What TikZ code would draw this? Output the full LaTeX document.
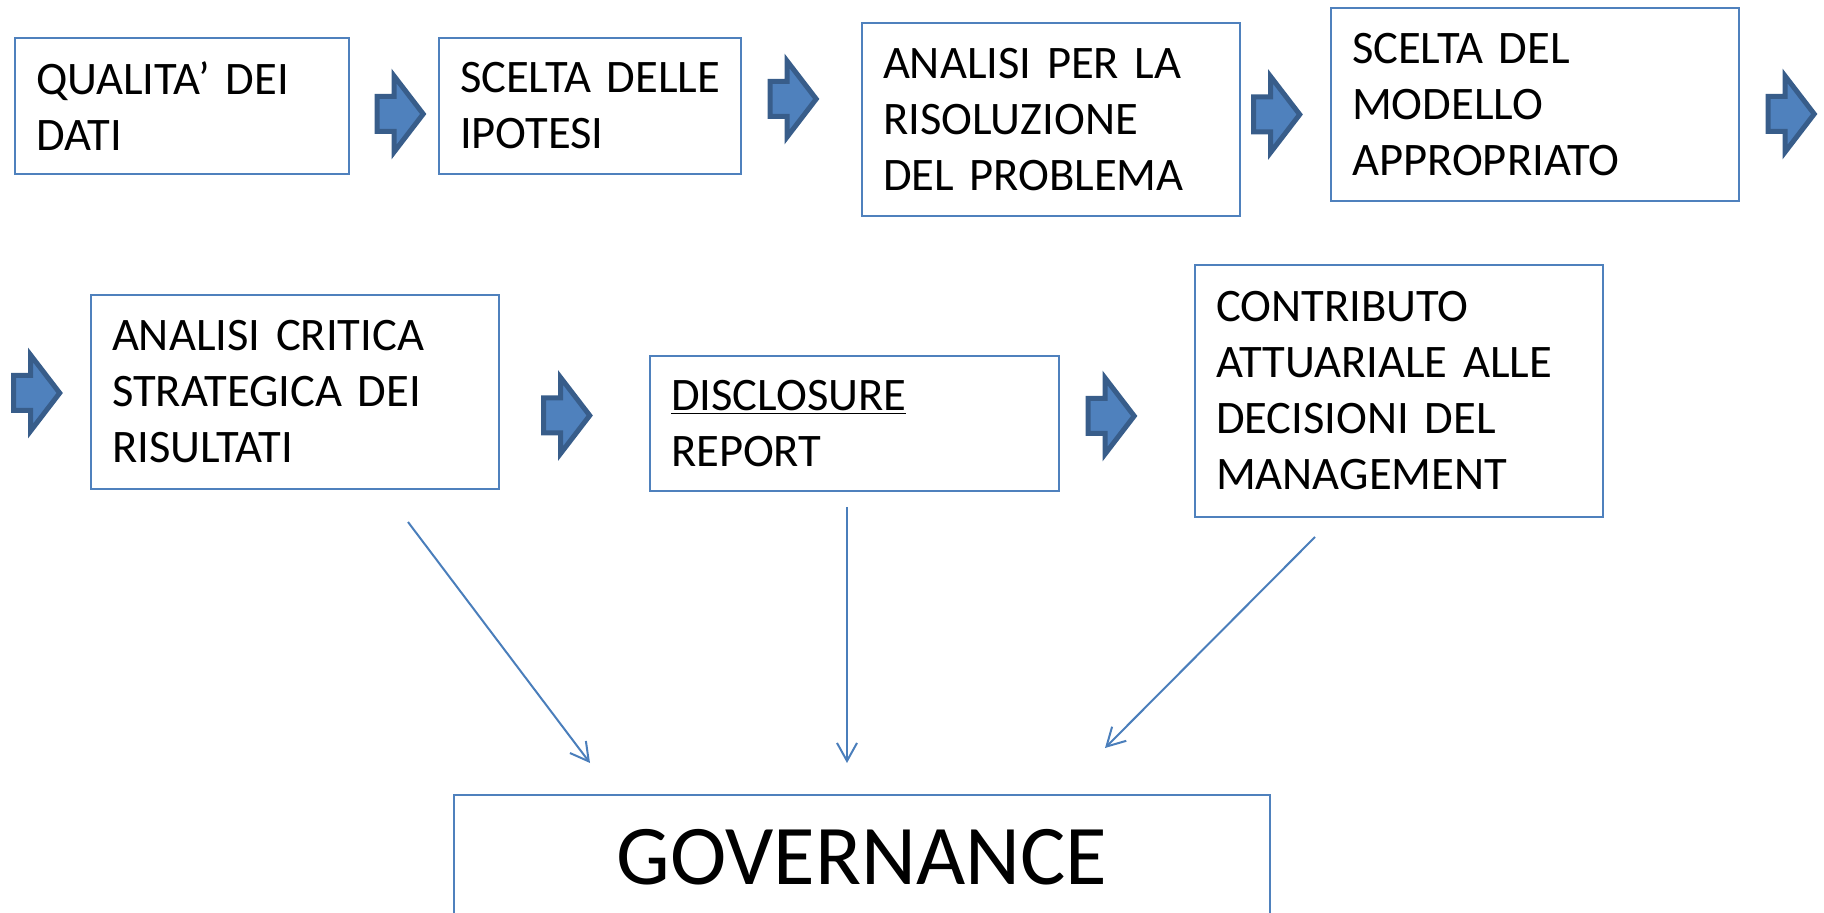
\documentclass[tikz,border=0pt]{standalone}
\usepackage{fontspec}
\setmainfont{Carlito}
\usepackage{tikz}
\usetikzlibrary{positioning,shapes.arrows,arrows.meta}
\definecolor{BoxBlue}{HTML}{4F81BD}
\definecolor{ArrowEdge}{HTML}{385D8A}
\definecolor{LinkBlue}{HTML}{4A7EBB}

\begin{document}
\begin{tikzpicture}[
  x=0.5pt, y=-0.5pt,
  phase/.style={
    draw=BoxBlue,
    line width=1pt,
    font=\fontsize{23.3}{28}\selectfont,
    align=left,
    inner xsep=10.5pt,
    inner ysep=0pt,
  },
  flow/.style={
    single arrow,
    draw=ArrowEdge,
    fill=BoxBlue,
    line width=2.5pt,
    minimum height=23pt,
    minimum width=35.5pt,
    single arrow head extend=10.25pt,
    single arrow tip angle=105,
    inner xsep=0pt,
    inner ysep=7.5pt,
  },
  link/.style={-{Straight Barb[length=9pt,width=10pt]}, line width=1pt, LinkBlue},
  gov/.style={draw=BoxBlue, line width=1pt, font=\fontsize{42.5}{51}\selectfont,
    minimum width=408pt, minimum height=62pt},
]
  \useasboundingbox (0,0) rectangle (1824,913);

  % first row
  \node[phase, text width=146pt, minimum height=68pt] (b1) at (182,106) {QUALITA’ DEI\\DATI};
  \node[phase, text width=130pt, minimum height=68pt] (b2) at (590,106) {SCELTA~DELLE\\IPOTESI};
  \node[phase, text width=168pt, minimum height=96.5pt] (b3) at (1051,119.5) {ANALISI PER LA\\RISOLUZIONE\\DEL PROBLEMA};
  \node[phase, text width=183pt, minimum height=96.5pt] (b4) at (1535,104.5) {SCELTA DEL\\MODELLO\\APPROPRIATO};

  % second row
  \node[phase, text width=183pt, minimum height=97pt] (b5) at (295,392) {ANALISI CRITICA\\STRATEGICA DEI\\RISULTATI};
  \node[phase, text width=183.5pt, minimum height=67.5pt] (b6) at (854.5,423.5) {\underline{DISCLOSURE}\\REPORT};
  \node[phase, text width=183pt, minimum height=126pt] (b7) at (1399,391) {CONTRIBUTO\\ATTUARIALE ALLE\\DECISIONI DEL\\MANAGEMENT};

  \node[flow] (a1) at (393.5,114) {};
  \node[flow] (a2) at (786.5,99) {};
  \node[flow] (a3) at (1270,114.5) {};
  \node[flow] (a4) at (1784.5,114) {};
  \node[flow] (a5) at (30,393) {};
  \node[flow] (a6) at (560,415.5) {};
  \node[flow] (a7) at (1104.5,416) {};

  \node[gov] (g) at (862,857) {GOVERNANCE};

  \coordinate (l1) at (408,522);
  \coordinate (l2) at (847,507);
  \coordinate (l3) at (1315,537);
  \coordinate (t1) at (590,763);
  \coordinate (t2) at (847,763);
  \coordinate (t3) at (1105,748);

  \draw[link] (l1) -- (t1);
  \draw[link] (l2) -- (t2);
  \draw[link] (l3) -- (t3);
\end{tikzpicture}
\end{document}
